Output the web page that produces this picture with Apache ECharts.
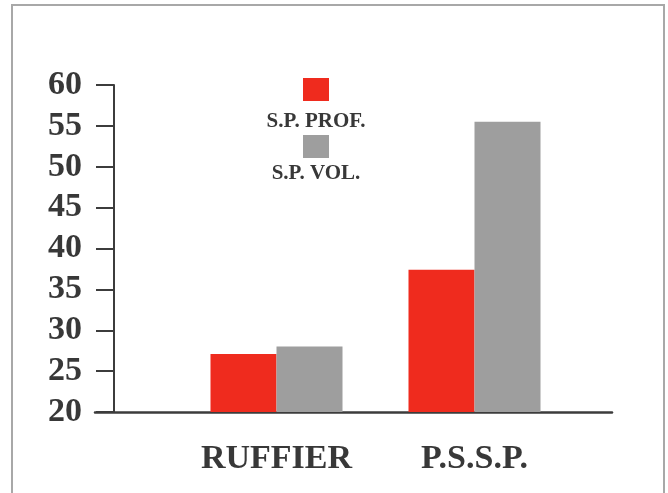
<!DOCTYPE html>
<html>
<head>
<meta charset="utf-8">
<script src="https://cdn.jsdelivr.net/npm/echarts@6/dist/echarts.min.js"></script>
<style>
html,body{margin:0;padding:0;background:#fff;}
#chart{width:668px;height:493px;}
</style>
</head>
<body>
<div id="chart"></div>
<script>
const categories = ['RUFFIER', 'P.S.S.P.'];
const seriesNames = ['S.P. PROF.', 'S.P. VOL.'];
const profValues = [27.1, 37.4];
const volValues = [28.0, 55.5];
const yMin = 20, yMax = 60, yStep = 5;

const serif = '"Liberation Serif", "DejaVu Serif", serif';
const textColor = '#383838';
const lineColor = '#3c3c3c';

const chart = echarts.init(document.getElementById('chart'));
chart.setOption({
  backgroundColor: '#ffffff',
  animation: false,
  grid: [
    { left: 177.5, right: 94.5, top: 85, bottom: 81 },
    { left: 95, right: 56, top: 85, bottom: 81 }
  ],
  legend: {
    data: seriesNames,
    orient: 'vertical',
    left: 303,
    top: 78,
    padding: 0,
    itemWidth: 26,
    itemHeight: 23,
    itemGap: 34,
    icon: 'rect',
    selectedMode: false,
    formatter: function () { return ''; },
    textStyle: { fontSize: 1 }
  },
  xAxis: [
    {
      type: 'category',
      gridIndex: 0,
      data: categories,
      axisLine: { show: false },
      axisTick: { show: false },
      axisLabel: {
        margin: 30,
        color: textColor,
        fontFamily: serif,
        fontWeight: 'bold',
        fontSize: 34
      }
    },
    {
      type: 'value',
      gridIndex: 1,
      min: 0, max: 1,
      axisLine: { show: true, lineStyle: { color: lineColor, width: 2.5 } },
      axisTick: { show: false },
      axisLabel: { show: false },
      splitLine: { show: false }
    }
  ],
  yAxis: [
    {
      type: 'value',
      gridIndex: 0,
      min: yMin, max: yMax, interval: yStep,
      offset: 63.5,
      axisLine: { show: true, lineStyle: { color: lineColor, width: 2 } },
      axisTick: { show: true, length: 18, lineStyle: { color: lineColor, width: 2 } },
      splitLine: { show: false },
      axisLabel: {
        margin: 32,
        color: textColor,
        fontFamily: serif,
        fontWeight: 'bold',
        fontSize: 34,
        padding: [0, 0, 8, 0]
      }
    },
    {
      type: 'value',
      gridIndex: 1,
      show: false,
      min: 0, max: 1
    }
  ],
  series: [
    {
      name: seriesNames[0],
      type: 'bar',
      xAxisIndex: 0, yAxisIndex: 0,
      data: profValues,
      barWidth: 66,
      barGap: '0%',
      itemStyle: { color: '#ef2b1e' }
    },
    {
      name: seriesNames[1],
      type: 'bar',
      xAxisIndex: 0, yAxisIndex: 0,
      data: volValues,
      barWidth: 66,
      barGap: '0%',
      itemStyle: { color: '#9e9e9e' }
    }
  ],
  graphic: [
    {
      type: 'rect',
      shape: { x: 12, y: 5, width: 652, height: 520 },
      style: { fill: 'none', stroke: '#a8a8a8', lineWidth: 2 },
      silent: true
    },
    {
      type: 'text',
      x: 316, y: 111,
      style: {
        text: seriesNames[0],
        textAlign: 'center',
        fill: textColor,
        font: 'bold 21px ' + serif
      }
    },
    {
      type: 'text',
      x: 316, y: 163,
      style: {
        text: seriesNames[1],
        textAlign: 'center',
        fill: textColor,
        font: 'bold 21px ' + serif
      }
    }
  ]
});
</script>
</body>
</html>
